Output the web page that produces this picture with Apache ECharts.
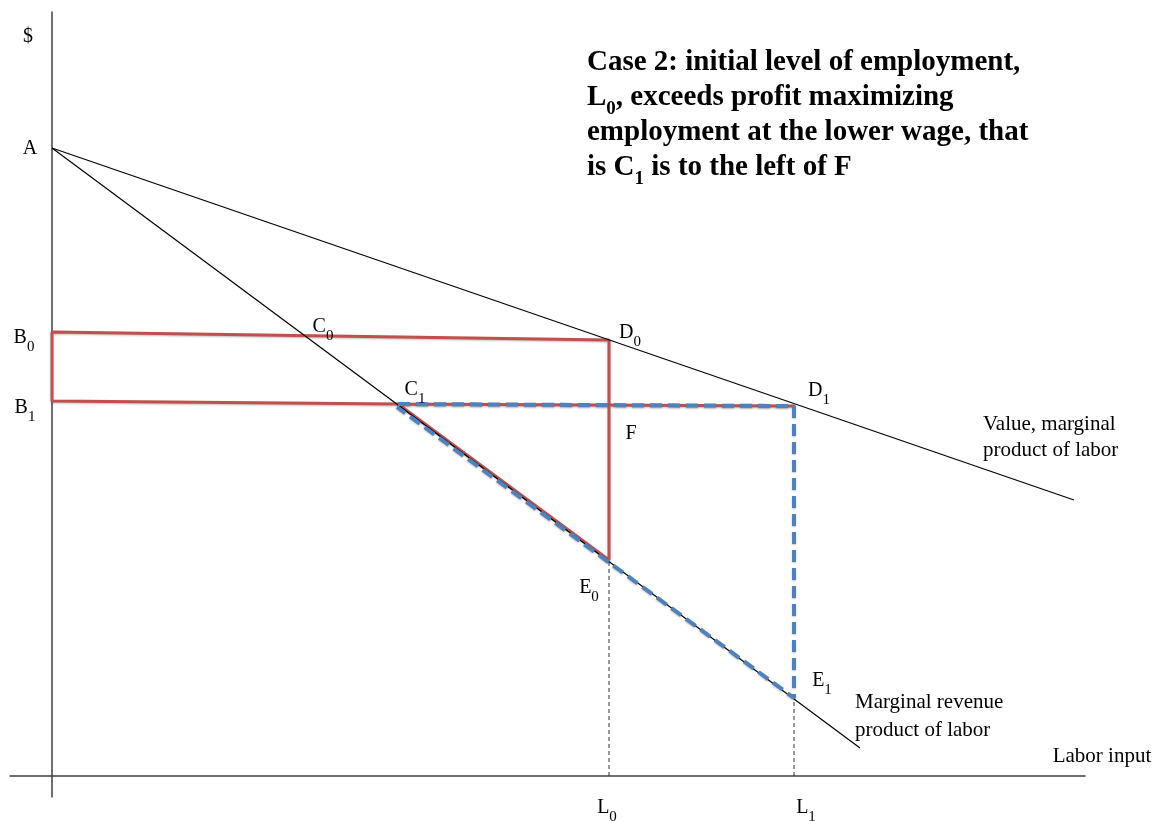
<!DOCTYPE html>
<html>
<head>
<meta charset="utf-8">
<script src="https://cdn.jsdelivr.net/npm/echarts@6/dist/echarts.min.js"></script>
<style>
  html, body { margin: 0; padding: 0; background: #fff; }
  #chart { width: 1160px; height: 821px; }
</style>
</head>
<body>
<div id="chart"></div>
<script>
// labor input on x, $ on y (origin where the two axes cross)
const vmpCurve = [[0, 628], [1022, 276]];   // value, marginal product of labor
const mrpCurve = [[0, 628], [808, 28]];     // marginal revenue product of labor
const laborLevels = [557, 742];             // L0, L1

const pA = [0, 628];
const pB0 = [0, 444];
const pB1 = [0, 375];
const pC0 = [255, 439];
const pC1 = [346, 372];
const pD0 = [557, 436];
const pD1 = [742, 370];
const pE0 = [557, 216];
const pE1 = [742, 78];
const pF = [557, 371];

// red outline: D1 -> C1 -> E0 -> D0 -> B0 -> B1 -> C1
const redPath = [pD1, pC1, pE0, pD0, pB0, pB1, pC1];
// blue dashed triangle: C1 -> D1 -> E1 -> back along (just under) the MRP line
const bluePath = [pC1, pD1, pE1, [345, 369]];

const pointNames = ['$', 'A', 'B0', 'B1', 'C0', 'C1', 'D0', 'D1', 'E0', 'E1', 'F', 'L0', 'L1'];
const pointCoords = [[0, 764], pA, pB0, pB1, pC0, pC1, pD0, pD1, pE0, pE1, pF, [laborLevels[0], 0], [laborLevels[1], 0]];

const titleLines = [
  '{b|Case 2: initial level of employment,}',
  '{b|L}{s|0}{b|, exceeds profit maximizing}',
  '{b|employment at the lower wage, that}',
  '{b|is C}{s|1}{b| is to the left of F}'
];

const FONT = '"Liberation Serif", "DejaVu Serif", serif';

// label offsets in pixels from the point
const labelOffsets = {
  '$': [-24, 26], 'A': [-22, 2], 'B0': [-28, 7], 'B1': [-27, 8],
  'C0': [16, -9], 'C1': [17, -13], 'D0': [21, -6], 'D1': [25, -14],
  'E0': [-20, 29], 'E1': [28, -16], 'F': [22, 30], 'L0': [-2, 33], 'L1': [12, 33]
};

function subLabel(name) {
  if (name.length === 2) return '{m|' + name[0] + '}{s|' + name[1] + '}';
  return '{m|' + name + '}';
}

const chart = echarts.init(document.getElementById('chart'));

const blackLine = { color: '#000', width: 1.2 };
const guideLine = { color: '#333', width: 1, type: [4, 3] };

const option = {
  animation: false,
  backgroundColor: '#fff',
  title: {
    text: titleLines.join('\n'),
    left: 587,
    top: 48,
    padding: 0,
    textStyle: {
      rich: {
        b: { fontFamily: FONT, fontWeight: 'bold', fontSize: 29, lineHeight: 35, verticalAlign: 'top', color: '#000' },
        s: { fontFamily: FONT, fontWeight: 'bold', fontSize: 19, lineHeight: 16, padding: [17, 0, 0, 0], verticalAlign: 'top', color: '#000' }
      }
    }
  },
  grid: { left: 10, right: 75, top: 12, bottom: 24 },
  xAxis: {
    type: 'value',
    min: -42,
    max: 1033,
    axisLine: { onZero: true, lineStyle: { color: '#404040', width: 1.5 } },
    axisTick: { show: false },
    axisLabel: { show: false },
    splitLine: { show: false }
  },
  yAxis: {
    type: 'value',
    min: -21,
    max: 764,
    axisLine: { onZero: true, lineStyle: { color: '#404040', width: 1.5 } },
    axisTick: { show: false },
    axisLabel: { show: false },
    splitLine: { show: false }
  },
  series: [
    {
      type: 'line', data: [[laborLevels[0], 0], pE0], symbol: 'none',
      lineStyle: guideLine, z: 1
    },
    {
      type: 'line', data: [[laborLevels[1], 0], pE1], symbol: 'none',
      lineStyle: guideLine, z: 1
    },
    {
      type: 'line', data: redPath, symbol: 'none',
      lineStyle: { color: '#c0504d', width: 3, shadowColor: 'rgba(0,0,0,0.25)', shadowBlur: 2, shadowOffsetY: 1 },
      z: 2
    },
    {
      type: 'line', data: vmpCurve, symbol: 'none', lineStyle: blackLine, z: 3,
      endLabel: {
        show: true,
        formatter: 'Value, marginal\nproduct of labor',
        fontFamily: FONT, fontSize: 21, lineHeight: 26, color: '#000',
        align: 'left', offset: [-99, -63]
      }
    },
    {
      type: 'line', data: mrpCurve, symbol: 'none', lineStyle: blackLine, z: 3,
      endLabel: {
        show: true,
        formatter: 'Marginal revenue\nproduct of labor',
        fontFamily: FONT, fontSize: 21, lineHeight: 28, color: '#000',
        align: 'left', offset: [-13, -32]
      }
    },
    {
      type: 'line', data: bluePath, symbol: 'none',
      lineStyle: { color: '#4f81bd', width: 4, type: [12, 6], shadowColor: 'rgba(0,0,0,0.25)', shadowBlur: 2, shadowOffsetY: 1 },
      z: 4
    },
    {
      type: 'scatter',
      symbolSize: 0,
      clip: false,
      z: 5,
      itemStyle: { opacity: 1 },
      data: pointNames.map(function (n, i) {
        return {
          name: n,
          value: pointCoords[i],
          label: { offset: labelOffsets[n] }
        };
      }),
      label: {
        show: true,
        position: [0, 0],
        align: 'center',
        verticalAlign: 'middle',
        color: '#000',
        opacity: 1,
        formatter: function (p) { return subLabel(p.name); },
        rich: {
          m: { fontFamily: FONT, fontSize: 20, lineHeight: 22, verticalAlign: 'top', color: '#000' },
          s: { fontFamily: FONT, fontSize: 15, lineHeight: 14, padding: [12, 0, 0, 0], verticalAlign: 'top', color: '#000' }
        }
      }
    },
    {
      type: 'scatter',
      symbolSize: 0,
      clip: false,
      z: 5,
      itemStyle: { opacity: 1 },
      data: [[1033, 0]],
      label: {
        show: true,
        position: [0, 0],
        align: 'center',
        verticalAlign: 'middle',
        opacity: 1,
        formatter: 'Labor input',
        fontFamily: FONT, fontSize: 21, color: '#000',
        offset: [17, -20]
      }
    }
  ]
};

chart.setOption(option);
window.addEventListener('resize', function () {
  chart.resize();
});
</script>
</body>
</html>
